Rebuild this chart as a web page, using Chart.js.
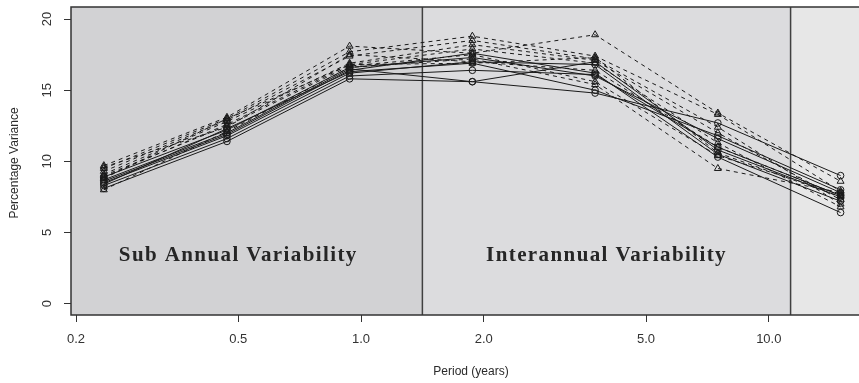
<!DOCTYPE html>
<html>
<head>
<meta charset="utf-8">
<script src="https://cdn.jsdelivr.net/npm/chart.js@4"></script>
<style>
  html, body { margin: 0; padding: 0; background: #fff; overflow: hidden; }
</style>
</head>
<body>
<canvas id="chartVar" width="859" height="383"></canvas>
<script>
// periods (years) of each band
var periods = [0.234, 0.469, 0.9375, 1.875, 3.75, 7.5, 15];

// solid lines with open circles
var circleRuns = [
    [8.1, 11.4, 15.8, 15.6, 14.8, 12.7, 9.0],
    [8.3, 11.6, 16.0, 16.4, 16.1, 11.0, 7.6],
    [8.5, 11.8, 16.2, 17.0, 16.8, 10.5, 7.2],
    [8.6, 11.9, 16.4, 17.6, 16.2, 10.3, 6.4],
    [8.7, 12.0, 16.5, 15.6, 17.0, 10.8, 7.5],
    [8.9, 12.2, 16.6, 17.3, 16.0, 11.6, 7.8],
    [8.4, 12.3, 16.3, 16.9, 15.0, 11.8, 8.0]
];

// dashed lines with open triangles
var triangleRuns = [
    [9.7, 13.1, 18.1, 17.6, 18.9, 13.4, 8.6],
    [9.5, 13.0, 17.7, 18.8, 17.4, 13.3, 7.9],
    [9.3, 12.9, 17.4, 18.5, 17.2, 12.4, 7.0],
    [9.1, 12.8, 16.9, 18.2, 17.1, 12.0, 7.3],
    [8.9, 12.6, 16.8, 17.9, 16.9, 11.3, 6.8],
    [9.0, 12.5, 16.7, 17.5, 15.6, 10.4, 7.7],
    [8.0, 12.1, 16.6, 17.2, 15.4, 9.5, 7.8],
    [8.8, 13.0, 16.8, 16.9, 17.3, 10.6, 7.5],
    [9.6, 12.4, 17.5, 17.0, 16.4, 11.0, 7.6]
];

var xTicks = [0.2, 0.5, 1, 2, 5, 10];
var xTickLabels = ["0.2", "0.5", "1.0", "2.0", "5.0", "10.0"];
var yTicks = [0, 5, 10, 15, 20];
var yTickLabels = ["0", "5", "10", "15", "20"];

// band limits and their names
var bandBreaks = [1.414, 11.31];
var bandNames = ["Sub Annual Variability", "Interannual Variability"];
var bandNameX = [0.5, 4];
var bandNameY = 3;

function toPoints(vals) {
    return vals.map(function(v, i) { return {x: periods[i], y: v}; });
}

var datasets = [];
circleRuns.forEach(function(run) {
    datasets.push({
        data: toPoints(run),
        borderColor: '#1a1a1a',
        borderWidth: 1,
        pointStyle: 'circle',
        pointRadius: 3.3,
        pointBorderWidth: 1,
        pointBorderColor: '#1a1a1a',
        pointBackgroundColor: 'rgba(0,0,0,0)',
        tension: 0
    });
});
triangleRuns.forEach(function(run) {
    datasets.push({
        data: toPoints(run),
        borderColor: '#1a1a1a',
        borderWidth: 1,
        borderDash: [4, 4],
        pointStyle: 'triangle',
        pointRadius: 4,
        pointBorderWidth: 1,
        pointBorderColor: '#1a1a1a',
        pointBackgroundColor: 'rgba(0,0,0,0)',
        tension: 0
    });
});

var decor = {
    id: 'decor',
    beforeDatasetsDraw: function(chart) {
        var c = chart.ctx, a = chart.chartArea, xs = chart.scales.x, ys = chart.scales.y;
        var b1 = xs.getPixelForValue(bandBreaks[0]);
        var b2 = xs.getPixelForValue(bandBreaks[1]);
        c.save();
        c.fillStyle = '#d2d2d4';
        c.fillRect(a.left, a.top, b1 - a.left, a.bottom - a.top);
        c.fillStyle = '#dcdcde';
        c.fillRect(b1, a.top, b2 - b1, a.bottom - a.top);
        c.fillStyle = '#e7e7e7';
        c.fillRect(b2, a.top, a.right + 6 - b2, a.bottom - a.top);

        c.strokeStyle = '#404040';
        c.lineWidth = 1.5;
        [b1, b2].forEach(function(px) {
            c.beginPath();
            c.moveTo(px, a.top);
            c.lineTo(px, a.bottom);
            c.stroke();
        });

        c.fillStyle = '#262626';
        c.font = 'bold 21px "Liberation Serif"';
        c.letterSpacing = '1.4px';
        c.textAlign = 'center';
        c.textBaseline = 'alphabetic';
        bandNames.forEach(function(name, i) {
            c.fillText(name, xs.getPixelForValue(bandNameX[i]), ys.getPixelForValue(bandNameY));
        });
        c.restore();
    },
    afterDraw: function(chart) {
        var c = chart.ctx, a = chart.chartArea, ys = chart.scales.y;
        c.save();
        // box (right side is outside the picture)
        c.strokeStyle = '#333';
        c.lineWidth = 1.5;
        c.beginPath();
        c.moveTo(a.right + 6, a.top);
        c.lineTo(a.left, a.top);
        c.lineTo(a.left, a.bottom);
        c.lineTo(a.right + 6, a.bottom);
        c.stroke();

        // y tick labels, rotated like R
        c.fillStyle = '#333';
        c.font = '13px "Liberation Sans"';
        c.textAlign = 'center';
        c.textBaseline = 'middle';
        yTicks.forEach(function(v, i) {
            c.save();
            c.translate(47, ys.getPixelForValue(v));
            c.rotate(-Math.PI / 2);
            c.fillText(yTickLabels[i], 0, 0);
            c.restore();
        });

        // axis titles
        c.font = '12px "Liberation Sans"';
        c.fillStyle = '#2a2a2a';
        c.fillText('Period (years)', 471, 372);
        c.save();
        c.translate(15, (a.top + a.bottom) / 2 + 2);
        c.rotate(-Math.PI / 2);
        c.fillText('Percentage Variance', 0, 0);
        c.restore();
        c.restore();
    }
};

var chartVar = new Chart(document.getElementById("chartVar"), {
    type: 'line',
    data: { datasets: datasets },
    options: {
        responsive: false,
        animation: false,
        devicePixelRatio: 1,
        layout: { padding: { top: 7, left: 0, right: 0, bottom: 0 } },
        plugins: {
            legend: { display: false },
            tooltip: { enabled: false }
        },
        scales: {
            x: {
                type: 'logarithmic',
                min: 0.1944,
                max: 16.18,
                afterBuildTicks: function(s) {
                    s.ticks = xTicks.map(function(v) { return {value: v}; });
                },
                afterFit: function(s) { s.height = 68; },
                ticks: {
                    callback: function(v, i) { return xTickLabels[i]; },
                    font: { family: 'Liberation Sans', size: 13 },
                    color: '#333',
                    padding: 10,
                    maxRotation: 0,
                    autoSkip: false
                },
                grid: {
                    drawOnChartArea: false,
                    drawTicks: true,
                    tickLength: 7,
                    color: '#333'
                },
                border: { display: false }
            },
            y: {
                min: -0.8,
                max: 20.85,
                afterBuildTicks: function(s) {
                    s.ticks = yTicks.map(function(v) { return {value: v}; });
                },
                afterFit: function(s) { s.width = 71; },
                ticks: { display: false },
                grid: {
                    drawOnChartArea: false,
                    drawTicks: true,
                    tickLength: 7,
                    color: '#333'
                },
                border: { display: false }
            }
        }
    },
    plugins: [decor]
});
</script>
</body>
</html>
